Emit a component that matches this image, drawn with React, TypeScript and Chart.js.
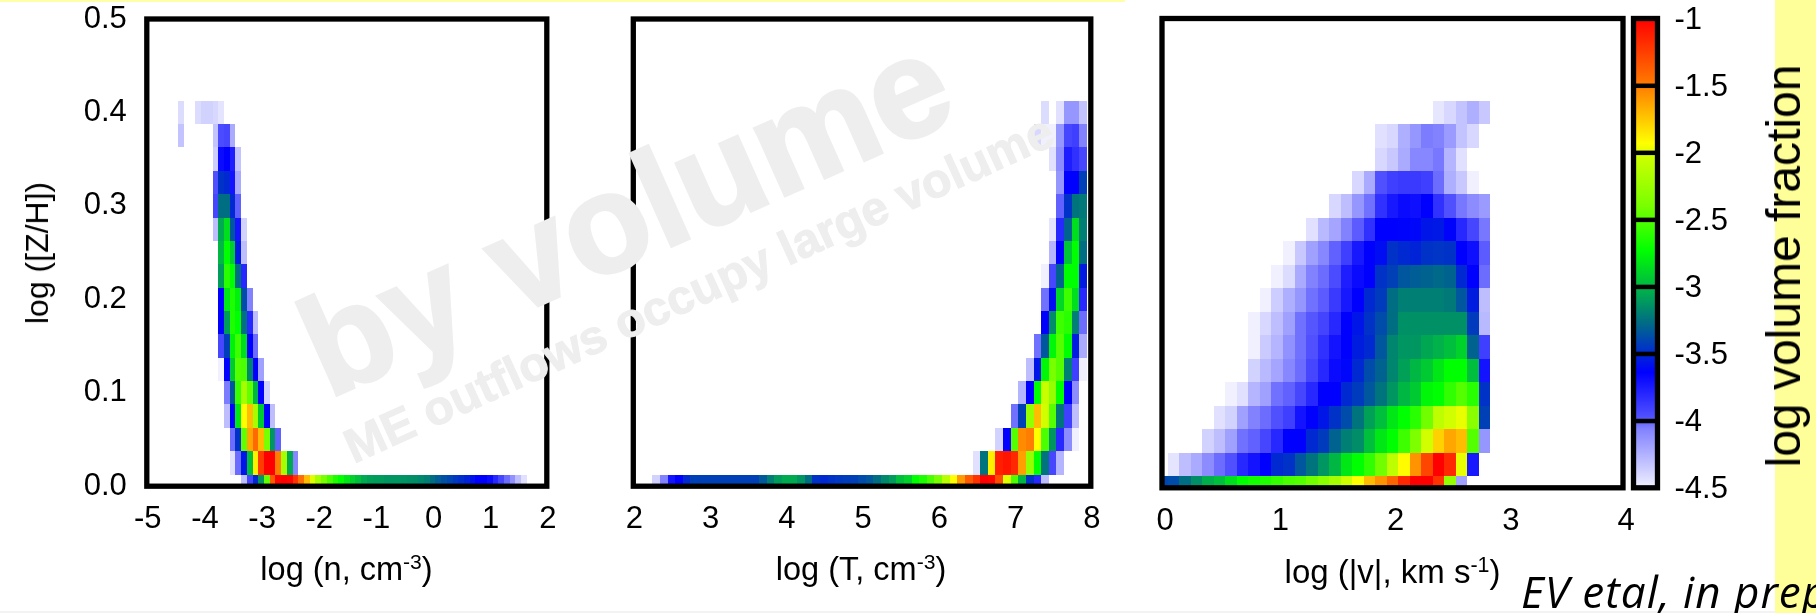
import React, { useEffect, useRef } from "react";
import { Chart, registerables } from "chart.js";

Chart.register(...registerables);

const PAGE_W = 1816;
const PAGE_H = 613;
const FONT = '"Liberation Sans", Arial, sans-serif';

/* metallicity bins: one row of every panel per entry */
const metallicityBins = [0, 0.025, 0.05, 0.075, 0.1, 0.125, 0.15, 0.175, 0.2, 0.225, 0.25, 0.275, 0.3, 0.325, 0.35, 0.375, 0.4];
const metallicityTicks = [0, 0.1, 0.2, 0.3, 0.4, 0.5];

/* left panel: log n */
const densityTicks = [-5, -4, -3, -2, -1, 0, 1, 2];
const densityStarts = [-3.3, -3.5, -3.5, -3.6, -3.6, -3.7, -3.7, -3.7, -3.7, -3.7, -3.7, -3.8, -3.8, -3.8, -3.8, -4.4, -4.4];
const densityValues = [
  [-4.3, -3.93, -3.5, -3.12, -2.46, -1.36, -1.02, -1, -1.02, -1.2, -1.44, -1.71, -2, -2.2, -2.4, -2.52, -2.65, -2.73, -2.82, -2.9, -2.97, -3.05, -3.08, -3.1, -3.1, -3.12, -3.12, -3.12, -3.13, -3.14, -3.15, -3.17, -3.2, -3.26, -3.32, -3.36, -3.4, -3.45, -3.48, -3.52, -3.58, -3.64, -3.64, -3.68, -3.8, -3.93, -4.02, -4.12, -4.3, -4.44],
  [-4.44, -4.02, -3.57, -2.97, -1.88, -1.24, -1, -1, -1.5, -2.2, -3.05, -4.08],
  [-4.02, -3.47, -2.46, -1.64, -1.42, -1.71, -2.4, -3.12, -4],
  [-4.3, -3.64, -2.82, -1.93, -1.71, -2.2, -2.93, -3.64, -4.3],
  [-4.05, -3.35, -2.58, -2.2, -2.46, -3, -3.64, -4.38],
  [-4.5, -3.64, -2.93, -2.5, -2.52, -3.18, -3.64, -4.18],
  [-3.93, -3.43, -2.78, -2.56, -2.85, -3.64, -4.02],
  [-3.64, -3.1, -2.65, -2.73, -3.25, -3.8, -4.3],
  [-3.64, -2.82, -2.65, -2.78, -3.38, -4.06],
  [-3.1, -2.62, -2.73, -3.26, -3.8],
  [-3, -2.73, -2.92, -3.55, -4.3],
  [-4.3, -3.05, -2.85, -3.34, -3.72, -4.38],
  [-3.93, -3.26, -3.26, -3.5, -4],
  [-3.97, -3.47, -3.5, -3.72, -4.22],
  [-4.36, -3.68, -3.64, -3.76, -4.32],
  [-4.32, null, null, null, null, null, -4.32, -3.95, -3.93, -4.22],
  [-4.42, null, null, -4.42, -4.38, -4.38, -4.4, -4.45],
];

/* middle panel: log T */
const temperatureTicks = [2, 3, 4, 5, 6, 7, 8];
const temperatureStarts = [2.3, 6.5, 6.8, 7, 7.1, 7.2, 7.3, 7.4, 7.4, 7.4, 7.5, 7.5, 7.6, 7.6, 7.5, 7.3, 7.4];
const temperatureValues = [
  [-4.38, -4.06, -3.72, -3.64, -3.5, -3.42, -3.42, -3.42, -3.42, -3.42, -3.42, -3.42, -3.42, -3.42, -3.33, -3.2, -3.1, -3.05, -3.05, -3.12, -3.26, -3.47, -3.5, -3.47, -3.45, -3.43, -3.42, -3.38, -3.34, -3.26, -3.17, -3.1, -2.97, -2.9, -2.73, -2.65, -2.53, -2.4, -2.12, -1.93, -1.6, -1.36, -1.2, -1, -1.02, -1.3, -2, -2.52, -3, -3.47, -3.8, -4.3],
  [-4.44, -3.24, -1.88, -1.12, -1.08, -1.16, -1.62, -2.28, -2.73, -3.24, -3.93, -4.26],
  [-4.38, -3.64, -2.5, -1.55, -1.5, -1.93, -2.52, -3.12, -3.8, -4.1, -4.5],
  [-4.03, -3.42, -2.28, -1.71, -2.03, -2.5, -3.24, -3.9, -4.3],
  [-4.26, -3.64, -2.73, -2.05, -2.28, -2.73, -3.64, -4.1],
  [-4.3, -3.57, -2.76, -2.4, -2.5, -3.2, -3.9, -4.5],
  [-4.03, -3.34, -2.76, -2.5, -2.73, -3.54, -4.22],
  [-3.64, -3.15, -2.56, -2.62, -3.2, -4.02],
  [-4.03, -3.6, -2.88, -2.56, -2.85, -3.8],
  [-4.5, -3.93, -3.3, -2.73, -2.73, -3.55],
  [-4.26, -3.64, -2.95, -2.73, -3.26],
  [-4.45, -3.8, -3.3, -2.85, -3.2],
  [-4, -3.47, -3.24, -3.22],
  [-4.14, -3.64, -3.64, -3.42],
  [-4.44, -4.1, -3.76, -3.84, -3.93],
  [-4.4, -4.5, -4.5, -4.14, -3.93, -3.9, -4.06],
  [-4.42, null, -4.44, -4.14, -4.14, -4.32],
];

/* right panel: log |v| */
const velocityTicks = [0, 1, 2, 3, 4];
const velocityStarts = [0, 0.1, 0.4, 0.5, 0.6, 0.8, 0.8, 0.8, 0.9, 1, 1.1, 1.3, 1.5, 1.7, 1.9, 1.9, 2.4];
const velocityValues = [
  [-3.4, -3.38, -3.26, -3.15, -3.03, -2.97, -2.85, -2.73, -2.68, -2.65, -2.59, -2.53, -2.5, -2.42, -2.32, -2.2, -2.04, -1.93, -1.71, -1.58, -1.4, -1.16, -1, -1, -1.2, -2.28, -4.18],
  [-4.45, -4.3, -4.22, -4.1, -4.02, -3.97, -3.8, -3.72, -3.64, -3.5, -3.47, -3.34, -3.24, -3.12, -3, -2.82, -2.73, -2.6, -2.42, -2.1, -1.92, -1.58, -1.28, -1, -1.16, -1.98, -3.74],
  [-4.38, -4.3, -4.18, -4.03, -4, -3.93, -3.8, -3.64, -3.64, -3.5, -3.44, -3.3, -3.2, -3.15, -2.97, -2.82, -2.73, -2.56, -2.38, -2.03, -1.78, -1.64, -1.71, -2.5, -4.14],
  [-4.44, -4.38, -4.18, -4.06, -4.02, -3.97, -3.9, -3.72, -3.64, -3.57, -3.47, -3.38, -3.24, -3.08, -2.97, -2.82, -2.73, -2.62, -2.42, -2.1, -2.03, -1.98, -2.32, -3.42],
  [-4.5, -4.44, -4.26, -4.18, -4.03, -4, -3.93, -3.8, -3.64, -3.64, -3.5, -3.44, -3.34, -3.24, -3.12, -3, -2.93, -2.76, -2.73, -2.6, -2.5, -2.62, -3.47],
  [-4.38, -4.28, -4.2, -4.08, -4.02, -3.93, -3.8, -3.68, -3.62, -3.5, -3.38, -3.3, -3.18, -3.08, -3, -2.93, -2.82, -2.73, -2.73, -2.97, -3.72],
  [-4.5, -4.35, -4.26, -4.12, -4.03, -3.97, -3.84, -3.72, -3.64, -3.54, -3.5, -3.34, -3.18, -3.12, -3.12, -3.06, -3.02, -2.97, -2.9, -3.3, -3.9],
  [-4.5, -4.4, -4.3, -4.18, -4.03, -3.98, -3.92, -3.8, -3.64, -3.57, -3.47, -3.38, -3.26, -3.14, -3.14, -3.14, -3.14, -3.14, -3.14, -3.44, -4.28],
  [-4.5, -4.36, -4.24, -4.14, -4.03, -3.99, -3.88, -3.74, -3.64, -3.5, -3.44, -3.26, -3.2, -3.2, -3.2, -3.2, -3.22, -3.34, -3.54, -4.3],
  [-4.5, -4.42, -4.22, -4.06, -4.02, -3.95, -3.76, -3.68, -3.64, -3.47, -3.42, -3.34, -3.32, -3.3, -3.28, -3.3, -3.5, -3.64, -4.02],
  [-4.5, -4.34, -4.18, -4.08, -4, -3.9, -3.74, -3.64, -3.6, -3.47, -3.5, -3.52, -3.47, -3.46, -3.47, -3.64, -3.7, -3.99],
  [-4.44, -4.28, -4.2, -4.06, -3.99, -3.84, -3.64, -3.64, -3.63, -3.62, -3.57, -3.56, -3.63, -3.8, -3.93, -4.04],
  [-4.4, -4.3, -4.14, -4.03, -3.84, -3.74, -3.68, -3.7, -3.64, -3.84, -3.97, -4.04, -4.1, -4.16],
  [-4.4, -4.22, -3.97, -3.9, -3.88, -3.88, -3.9, -4.02, -4.24, -4.34, -4.5],
  [-4.4, -4.34, -4.22, -4.08, -4.08, -4.04, -4.26, -4.44],
  [-4.44, -4.4, -4.24, -4.14, -4.05, -4.06, -4.16, -4.32, -4.4],
  [-4.46, -4.4, -4.32, -4.24, -4.34],
];

/* colour bar */
const colorTicks = [-4.5, -4, -3.5, -3, -2.5, -2, -1.5, -1];
const paletteValues = [-4.5, -4.06, -3.97, -3.64, -3.47, -3.26, -3.05, -2.73, -2.4, -2.05, -1.93, -1.52, -1];
const paletteColors = [
  [240, 240, 255], [130, 130, 255], [80, 80, 255], [0, 0, 255], [0, 50, 200], [0, 110, 130], [0, 170, 80],
  [0, 255, 0], [120, 255, 0], [200, 255, 0], [255, 255, 0], [255, 130, 0], [255, 0, 0],
];

function colorFor(v: number): string {
  const n = paletteValues.length;
  if (v <= paletteValues[0]) return `rgb(${paletteColors[0].join(",")})`;
  for (let i = 1; i < n; i++) {
    if (v <= paletteValues[i]) {
      const t = (v - paletteValues[i - 1]) / (paletteValues[i] - paletteValues[i - 1]);
      const a = paletteColors[i - 1];
      const b = paletteColors[i];
      return `rgb(${a.map((c, k) => Math.round(c + (b[k] - c) * t)).join(",")})`;
    }
  }
  return `rgb(${paletteColors[n - 1].join(",")})`;
}

function cells(starts: number[], rows: (number | null)[][]) {
  const out: { x: number; y: number; v: number }[] = [];
  rows.forEach((row, r) =>
    row.forEach((v, i) => {
      if (v !== null) out.push({ x: starts[r] + i * 0.1, y: metallicityBins[r], v });
    })
  );
  return out;
}

const heatmapPlugin = {
  id: "heatmap",
  beforeDatasetsDraw(chart: any) {
    const { ctx, chartArea: a, scales } = chart;
    const { x, y } = scales;
    ctx.save();
    ctx.beginPath();
    ctx.rect(a.left, a.top, a.right - a.left, a.bottom - a.top);
    ctx.clip();
    for (const p of chart.data.datasets[0].data) {
      const l = Math.round(x.getPixelForValue(p.x - 0.05));
      const r = Math.round(x.getPixelForValue(p.x + 0.05));
      const t = Math.round(y.getPixelForValue(p.y + 0.0125));
      const b = Math.round(y.getPixelForValue(p.y - 0.0125));
      ctx.fillStyle = colorFor(p.v);
      ctx.fillRect(l, t, r - l, b - t);
    }
    ctx.restore();
  },
};

const colorBarPlugin = {
  id: "colorbar",
  beforeDatasetsDraw(chart: any) {
    const { ctx, chartArea: a, scales } = chart;
    const y = scales.y;
    const grad = ctx.createLinearGradient(0, y.getPixelForValue(-4.5), 0, y.getPixelForValue(-1));
    paletteValues.forEach((v, i) => {
      grad.addColorStop((v + 4.5) / 3.5, `rgb(${paletteColors[i].join(",")})`);
    });
    ctx.fillStyle = grad;
    ctx.fillRect(a.left, a.top, a.right - a.left, a.bottom - a.top);
    ctx.fillStyle = "#000";
    colorTicks.slice(1, -1).forEach((v) => {
      ctx.fillRect(a.left, y.getPixelForValue(v) - 2, a.right - a.left, 4.5);
    });
  },
};

const framePlugin = {
  id: "frame",
  afterDatasetsDraw(chart: any) {
    const { ctx, chartArea: a } = chart;
    ctx.save();
    ctx.strokeStyle = "#000";
    ctx.lineWidth = 5.3;
    ctx.strokeRect(a.left, a.top, a.right - a.left, a.bottom - a.top);
    ctx.restore();
  },
};

const tickFont = { family: FONT, size: 31 };

const noPadding = (s: any) => {
  s.paddingLeft = 0;
  s.paddingRight = 0;
  s.paddingTop = 0;
  s.paddingBottom = 0;
};

function baseOptions(box: { l: number; t: number; r: number; b: number }) {
  return {
    animation: false,
    responsive: false,
    devicePixelRatio: 1,
    layout: { padding: { left: 0, top: box.t, right: PAGE_W - box.r, bottom: 0 } },
    plugins: { legend: { display: false }, tooltip: { enabled: false }, title: { display: false } },
  };
}

const xAxis = (min: number, max: number, ticks: number[], labelOffset: number, padding: number, height: number) => ({
  type: "linear",
  min,
  max,
  afterFit: (s: any) => { s.height = height; noPadding(s); },
  afterBuildTicks: (s: any) => { s.ticks = ticks.map((value) => ({ value })); },
  grid: { display: false, drawTicks: false },
  border: { display: false },
  ticks: { autoSkip: false, maxRotation: 0, color: "#000", font: tickFont, padding, labelOffset, callback: (v: number) => String(v) },
});

const yAxis = (min: number, max: number, showLabels: boolean, width: number) => ({
  type: "linear",
  min,
  max,
  afterFit: (s: any) => { s.width = width; noPadding(s); },
  afterBuildTicks: (s: any) => { s.ticks = metallicityTicks.map((value) => ({ value })); },
  grid: { display: false, drawTicks: false },
  border: { display: false },
  ticks: { display: showLabels, autoSkip: false, color: "#000", font: tickFont, padding: 20, callback: (v: number) => v.toFixed(1) },
});

const panels = [
  { box: { l: 146.8, t: 19, r: 546.8, b: 486.2 }, min: -5, max: 2, ticks: densityTicks, starts: densityStarts, values: densityValues, labels: true, offset: 1, pad: 15 },
  { box: { l: 633.3, t: 19, r: 1090.8, b: 486.2 }, min: 2, max: 8, ticks: temperatureTicks, starts: temperatureStarts, values: temperatureValues, labels: false, offset: 1, pad: 15 },
  { box: { l: 1162, t: 18.5, r: 1623, b: 487.8 }, min: 0, max: 4, ticks: velocityTicks, starts: velocityStarts, values: velocityValues, labels: false, offset: 3, pad: 15 },
];
const colorBarBox = { l: 1633.5, t: 18.5, r: 1657.5, b: 487.8 };

const layer: React.CSSProperties = { position: "absolute", left: 0, top: 0 };

const textBase: React.CSSProperties = {
  position: "absolute",
  fontFamily: FONT,
  color: "#000",
  whiteSpace: "nowrap",
  lineHeight: 1,
};
const supStyle: React.CSSProperties = { fontSize: "0.65em", verticalAlign: "0.5em", lineHeight: 0 };

export default function App() {
  const refs = [useRef<HTMLCanvasElement>(null), useRef<HTMLCanvasElement>(null), useRef<HTMLCanvasElement>(null), useRef<HTMLCanvasElement>(null)];

  useEffect(() => {
    const charts: Chart[] = panels.map((p, i) =>
      new Chart(refs[i].current as HTMLCanvasElement, {
        type: "scatter",
        data: { datasets: [{ data: cells(p.starts, p.values) as any, pointRadius: 0 }] },
        options: {
          ...baseOptions(p.box),
          scales: {
            x: xAxis(p.min, p.max, p.ticks, p.offset, p.pad, PAGE_H - p.box.b),
            y: yAxis(0, 0.5, p.labels, p.box.l),
          },
        } as any,
        plugins: [heatmapPlugin, framePlugin],
      })
    );
    const barOptions: any = baseOptions(colorBarBox);
    barOptions.layout.padding = { left: colorBarBox.l, top: colorBarBox.t, right: 0, bottom: PAGE_H - colorBarBox.b };
    charts.push(
      new Chart(refs[3].current as HTMLCanvasElement, {
        type: "scatter",
        data: { datasets: [{ data: colorTicks.map((v) => ({ x: 0, y: v })), pointRadius: 0 }] },
        options: {
          ...barOptions,
          scales: {
            x: { type: "linear", display: false, min: 0, max: 1 },
            y: {
              type: "linear",
              position: "right",
              min: -4.5,
              max: -1,
              afterFit: (s: any) => { s.width = PAGE_W - colorBarBox.r; noPadding(s); },
              afterBuildTicks: (s: any) => { s.ticks = colorTicks.map((value) => ({ value })); },
              grid: { display: false, drawTicks: false },
              border: { display: false },
              ticks: { autoSkip: false, color: "#000", font: tickFont, padding: 17, labelOffset: 2, callback: (v: number) => String(v) },
            },
          },
        } as any,
        plugins: [colorBarPlugin, framePlugin],
      })
    );
    return () => charts.forEach((c) => c.destroy());
  }, []);

  return (
    <div style={{ position: "fixed", left: 0, top: 0, width: PAGE_W, height: PAGE_H, overflow: "hidden", background: "#fff", filter: "blur(0.4px)" }}>
      <div style={{ position: "absolute", left: 0, top: 0, width: 1125, height: 2, background: "#ffffa8" }} />
      <div style={{ position: "absolute", left: 1775, top: 0, width: 41, height: PAGE_H, background: "#ffff99" }} />
      <div style={{ position: "absolute", left: 0, top: 611, width: 1775, height: 2, background: "#f3f3f3" }} />

      {refs.map((r, i) => (
        <canvas key={i} ref={r} width={PAGE_W} height={PAGE_H} style={layer} />
      ))}

      <div style={{ ...textBase, fontSize: 32, left: 37, top: 253, transform: "translate(-50%,-50%) rotate(-90deg)" }}>log ([Z/H])</div>
      <div style={{ ...textBase, fontSize: 32.5, left: 346.5, top: 568.5, transform: "translate(-50%,-50%)" }}>
        log (n, cm<sup style={supStyle}>-3</sup>)
      </div>
      <div style={{ ...textBase, fontSize: 32.5, left: 861, top: 568.5, transform: "translate(-50%,-50%)" }}>
        log (T, cm<sup style={supStyle}>-3</sup>)
      </div>
      <div style={{ ...textBase, fontSize: 33, left: 1392.5, top: 571, transform: "translate(-50%,-50%)" }}>
        log (|v|, km s<sup style={supStyle}>-1</sup>)
      </div>
      <div style={{ ...textBase, fontSize: 48, left: 1784, top: 266, transform: "translate(-50%,-50%) rotate(-90deg)" }}>log volume fraction</div>

      <div style={{ ...textBase, fontSize: 44, fontFamily: '"Open Sans", sans-serif', fontStyle: "italic", letterSpacing: 1, left: 1521, top: 606 - 44 * 0.85 }}>EV etal, in prep</div>

      <div style={{ ...textBase, color: "#eeeeee", fontWeight: 700, fontSize: 140, WebkitTextStroke: "3px #eeeeee", left: 329, top: 400 - 140 * 0.85, transformOrigin: "0 0.85em", transform: "rotate(-24deg)" }}>by volume</div>
      <div style={{ ...textBase, color: "#eeeeee", fontWeight: 700, fontSize: 48, WebkitTextStroke: "1px #eeeeee", left: 354, top: 465 - 48 * 0.85, transformOrigin: "0 0.85em", transform: "rotate(-24.5deg)" }}>ME outflows occupy large volume</div>
    </div>
  );
}
